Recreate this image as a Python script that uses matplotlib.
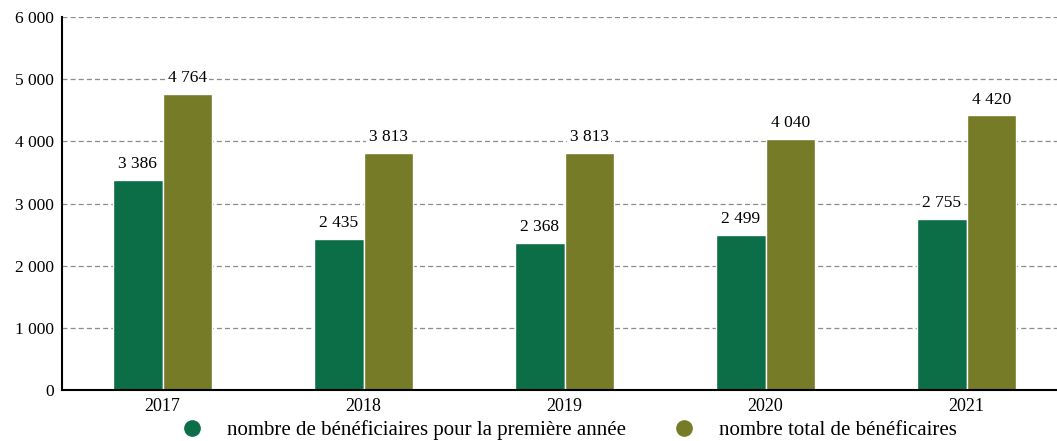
import numpy as np
import matplotlib.pyplot as plt
from matplotlib.ticker import FuncFormatter
from matplotlib.lines import Line2D

years = ["2017", "2018", "2019", "2020", "2021"]
premiere_annee = [3386, 2435, 2368, 2499, 2755]
total = [4764, 3813, 3813, 4040, 4420]

green = "#0b6e46"
olive = "#767b28"

plt.rcParams["font.family"] = ["Liberation Serif", "DejaVu Serif"]
plt.rcParams["font.size"] = 12.5


def fmt(v):
    return f"{int(v):,}".replace(",", " ")


fig = plt.figure(figsize=(10.57, 4.41), dpi=100)
ax = fig.add_axes([62 / 1057, 51 / 441, 995 / 1057, 373 / 441])

x = np.arange(len(years))
w = 0.245
b1 = ax.bar(x - w / 2, premiere_annee, w, color=green, edgecolor="white", linewidth=1, zorder=2)
b2 = ax.bar(x + w / 2, total, w, color=olive, edgecolor="white", linewidth=1, zorder=2)

for bars in (b1, b2):
    for r in bars:
        h = r.get_height()
        ax.text(r.get_x() + r.get_width() / 2, h + 120, fmt(h), ha="center", va="bottom",
                zorder=3, bbox=dict(facecolor="white", edgecolor="none", pad=2))

ax.set_xlim(-0.5, 4.45)
ax.set_ylim(0, 6000)
ax.set_yticks(range(0, 6001, 1000))
ax.yaxis.set_major_formatter(FuncFormatter(lambda v, p: fmt(v)))
ax.set_xticks(x)
ax.set_xticklabels(years, fontsize=13)
ax.tick_params(length=0, pad=6)
ax.yaxis.grid(True, linestyle=(0, (4, 2.5)), color="#8c8c8c", linewidth=0.9, zorder=0)
ax.set_axisbelow(True)
for s in ("top", "right"):
    ax.spines[s].set_visible(False)
for s in ("left", "bottom"):
    ax.spines[s].set_linewidth(1.5)
    ax.spines[s].set_zorder(4)

handles = [Line2D([], [], marker="o", linestyle="none", color=green, markersize=11),
           Line2D([], [], marker="o", linestyle="none", color=olive, markersize=11)]
fig.legend(handles, ["nombre de bénéficiaires pour la première année", "nombre total de bénéficaires"],
           loc="center", bbox_to_anchor=(564 / 1057, 1 - 430 / 441), ncol=2, frameon=False,
           fontsize=15, handletextpad=0.7, columnspacing=1.75, borderpad=0, borderaxespad=0)

fig.savefig("out.png", dpi=100)
